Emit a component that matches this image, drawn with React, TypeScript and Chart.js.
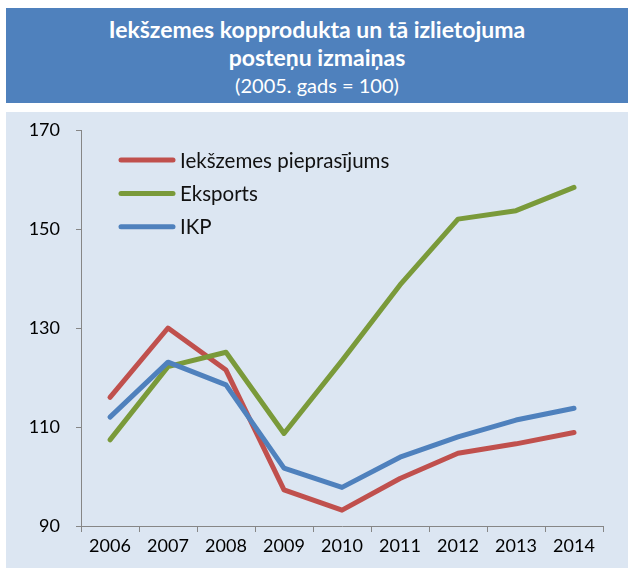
import React, { useEffect, useRef } from "react";
import { Chart, registerables } from "chart.js";

Chart.register(...registerables);

const years = ["2006", "2007", "2008", "2009", "2010", "2011", "2012", "2013", "2014"];
const domesticDemand = [116.0, 130.0, 121.5, 97.3, 93.2, 99.6, 104.7, 106.6, 108.9];
const exportsIdx = [107.4, 122.2, 125.1, 108.7, 123.4, 138.7, 152.0, 153.7, 158.4];
const gdp = [112.0, 123.1, 118.5, 101.7, 97.8, 103.9, 108.0, 111.4, 113.8];
const seriesLabels = ["Iekšzemes pieprasījums", "Eksports", "IKP"];
const seriesColors = ["#C0504D", "#7A9A3A", "#4F81BD"];
const yMin = 90;
const yMax = 170;
const yStep = 20;

const titleLines = ["Iekšzemes kopprodukta un tā izlietojuma", "posteņu izmaiņas", "(2005. gads = 100)"];

const legendPlugin = {
  id: "insideLegend",
  afterDatasetsDraw(chart: any) {
    const { ctx, chartArea } = chart;
    const x0 = chartArea.left + 40;
    const x1 = chartArea.left + 92;
    chart.data.datasets.forEach((ds: any, i: number) => {
      const y = chartArea.top + 30 + i * 33.4;
      ctx.save();
      ctx.strokeStyle = ds.borderColor;
      ctx.lineWidth = 5;
      ctx.lineCap = "round";
      ctx.beginPath();
      ctx.moveTo(x0, y);
      ctx.lineTo(x1, y);
      ctx.stroke();
      ctx.fillStyle = "#111";
      ctx.font = "20.5px Lato";
      ctx.textBaseline = "middle";
      ctx.textAlign = "left";
      ctx.fillText(ds.label, x1 + 7, y + 1);
      ctx.restore();
    });
  },
};

export default function App() {
  const canvasRef = useRef<HTMLCanvasElement | null>(null);

  useEffect(() => {
    if (!canvasRef.current) return;
    const axisColor = "#868686";
    const font = { family: "Lato", size: 18 };
    const mk = (i: number, data: number[], order: number) => ({
      label: seriesLabels[i],
      data,
      borderColor: seriesColors[i],
      backgroundColor: seriesColors[i],
      borderWidth: 5,
      borderCapStyle: "round",
      borderJoinStyle: "round",
      pointRadius: 0,
      tension: 0,
      fill: false,
      order,
    });
    const chart = new Chart(canvasRef.current, {
      type: "line",
      data: {
        labels: years,
        datasets: [mk(0, domesticDemand, 2), mk(1, exportsIdx, 1), mk(2, gdp, 0)] as any,
      },
      options: {
        animation: false,
        responsive: false,
        layout: { padding: { top: 18, right: 25, left: 0, bottom: 0 } },
        plugins: { legend: { display: false }, title: { display: false }, tooltip: { enabled: false } },
        scales: {
          x: {
            type: "category",
            offset: true,
            grid: { offset: true, drawOnChartArea: false, drawTicks: true, tickLength: 6, color: axisColor },
            border: { display: true, color: axisColor, width: 1 },
            ticks: { font, color: "#000", padding: 3, maxRotation: 0, autoSkip: false },
            afterFit: (s: any) => {
              s.height = 42;
              s.paddingLeft = 0;
              s.paddingRight = 0;
            },
          },
          y: {
            min: yMin,
            max: yMax,
            grid: { drawOnChartArea: false, drawTicks: true, tickLength: 5, color: axisColor },
            border: { display: true, color: axisColor, width: 1 },
            ticks: { stepSize: yStep, font, color: "#000", padding: 16 },
            afterFit: (s: any) => {
              s.width = 75;
              s.paddingTop = 0;
              s.paddingBottom = 0;
            },
          },
        },
      } as any,
      plugins: [legendPlugin],
    });
    if ((document as any).fonts && (document as any).fonts.load) {
      Promise.all([
        (document as any).fonts.load("18px Lato"),
        (document as any).fonts.load("20px Lato"),
      ]).then(() => chart.update()).catch(() => {});
    }
    return () => chart.destroy();
  }, []);

  return (
    <div style={{ position: "absolute", left: 0, top: 0, width: 628, height: 571, background: "#fff", overflow: "hidden" }}>
      <div
        style={{
          position: "absolute",
          left: 6,
          top: 8,
          width: 622,
          height: 95,
          background: "#4F81BD",
          color: "#fff",
          fontFamily: "Lato, sans-serif",
          textAlign: "center",
          boxSizing: "border-box",
          paddingTop: 7,
        }}
      >
        <div style={{ fontWeight: 700, fontSize: 23, lineHeight: "28px" }}>{titleLines[0]}</div>
        <div style={{ fontWeight: 700, fontSize: 23, lineHeight: "28px" }}>{titleLines[1]}</div>
        <div style={{ fontWeight: 400, fontSize: 20, lineHeight: "28px" }}>{titleLines[2]}</div>
      </div>
      <div style={{ position: "absolute", left: 6, top: 112, width: 622, height: 456, background: "#DCE6F2" }}>
        <canvas ref={canvasRef} width={622} height={456} style={{ display: "block" }} />
      </div>
    </div>
  );
}
